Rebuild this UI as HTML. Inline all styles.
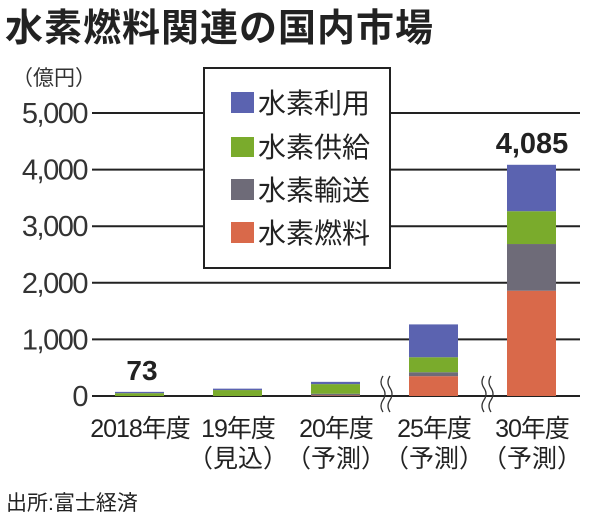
<!DOCTYPE html>
<html><head><meta charset="utf-8"><style>
body{margin:0;background:#fff;width:600px;height:523px;overflow:hidden;font-family:"Liberation Sans","Noto Sans CJK JP",sans-serif;}
</style></head><body>
<svg width="600" height="523" style="position:absolute;left:0;top:0">
<text x="5" y="41" font-size="38" font-weight="bold" fill="#222" letter-spacing="1">水素燃料関連の国内市場</text>
<text x="12" y="85" font-size="21" fill="#333">（億円）</text>
<g id="grid"></g><g id="bars"></g>
<g>
<rect x="204" y="68" width="186" height="200" fill="#fff" stroke="#222" stroke-width="2"/>
<rect x="231" y="92" width="23" height="21" fill="#5b63b0"/><text x="258" y="113" font-size="28" fill="#222">水素利用</text>
<rect x="231" y="137" width="23" height="20" fill="#7aab2c"/><text x="258" y="157" font-size="28" fill="#222">水素供給</text>
<rect x="231" y="179" width="23" height="21" fill="#6e6b78"/><text x="258" y="200" font-size="28" fill="#222">水素輸送</text>
<rect x="231" y="222" width="23" height="21" fill="#d9694a"/><text x="258" y="243" font-size="28" fill="#222">水素燃料</text>
</g>
<g fill="none" stroke="#333" stroke-width="1.3">
<path d="M383,376 q-4,6 0,12 q4,6 0,12 q-4,6 0,12"/><path d="M390,376 q-4,6 0,12 q4,6 0,12 q-4,6 0,12"/>
<path d="M484,376 q-4,6 0,12 q4,6 0,12 q-4,6 0,12"/><path d="M491,376 q-4,6 0,12 q4,6 0,12 q-4,6 0,12"/>
</g>
<text x="6" y="510" font-size="21" fill="#222">出所:富士経済</text>
</svg>
<script>
const categories=["2018年度","19年度","20年度","25年度","30年度"];
const subLabels=["","（見込）","（予測）","（予測）","（予測）"];
const fuel=[0,0,10,350,1860];
const transport=[0,0,30,70,825];
const supply=[50,105,170,265,580];
const use=[23,25,40,580,820];
const totalLabels=["73","","","","4,085"];
const yTicks=[0,1000,2000,3000,4000,5000];
const yTickLabels=["0","1,000","2,000","3,000","4,000","5,000"];
const ns="http://www.w3.org/2000/svg";
const y=v=>396-v*0.0566;
const x=i=>140+i*98;
function mk(t,a,p){const e=document.createElementNS(ns,t);for(const k in a)e.setAttribute(k,a[k]);p.appendChild(e);return e;}
const grid=document.getElementById('grid'),bars=document.getElementById('bars');
yTicks.forEach((v,i)=>{
 const l=mk('line',{x1:92,x2:580,y1:y(v),y2:y(v),stroke:'#222','stroke-width':2},grid);
 
 
 const t=mk('text',{x:87,y:y(v)+10,'font-size':29,'text-anchor':'end',fill:'#333','letter-spacing':'-1.5'},grid);
 t.textContent=yTickLabels[i];
 
 
});
const series=[[fuel,'#d9694a','fuel'],[transport,'#6e6b78','transport'],[supply,'#7aab2c','supply'],[use,'#5b63b0','use']];
categories.forEach((c,i)=>{
 let base=0;
 series.forEach(([arr,col,nm])=>{
  const v=arr[i];if(v<=0)return;
  const r=mk('rect',{x:x(i)-25,y:y(base+v),width:49,height:y(base)-y(base+v),fill:col},bars);
  
  
  base+=v;
 });
 if(totalLabels[i]){const t=mk('text',{x:x(i)+(i==0?2:0),y:y(base)-12,'font-size':i==0?28:29,'font-weight':'bold','text-anchor':'middle',fill:'#222'},bars);
  t.textContent=totalLabels[i];
  
  }
 const t1=mk('text',{x:x(i),y:437,'font-size':25,'text-anchor':'middle',fill:'#222','letter-spacing':'-1'},bars);
 t1.textContent=c;
 
 
 if(subLabels[i]){const t2=mk('text',{x:x(i),y:467,'font-size':25,'text-anchor':'middle',fill:'#222'},bars);
  t2.textContent=subLabels[i];
  
  }
});
</script>
</body></html>
